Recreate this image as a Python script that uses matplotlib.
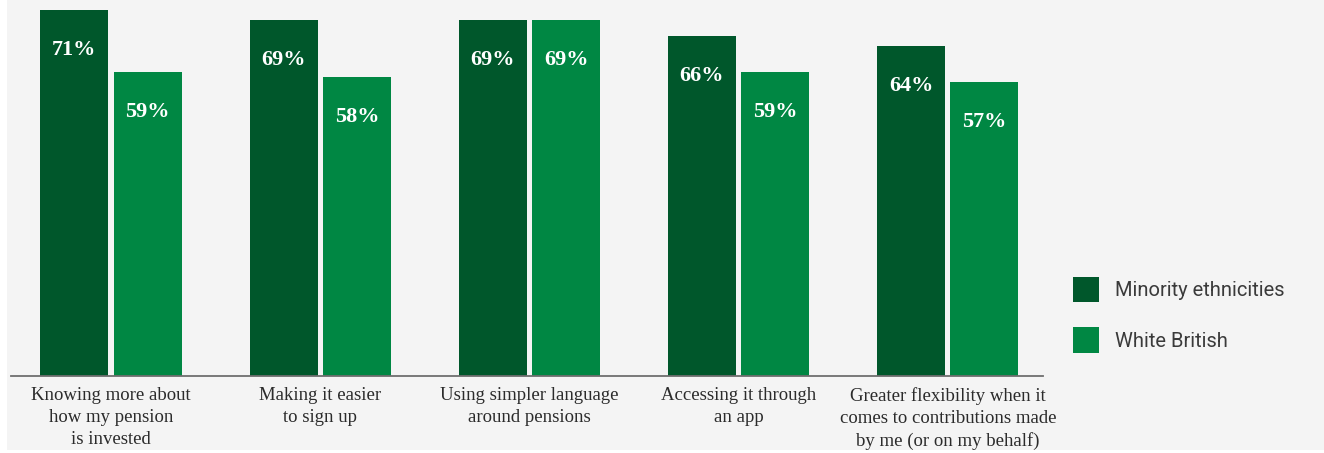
import matplotlib
matplotlib.use('Agg')
import matplotlib.pyplot as plt
from matplotlib.patches import Rectangle, Patch
import numpy as np

# Данные
categories = [
    'Knowing more about\nhow my pension\nis invested',
    'Making it easier\nto sign up',
    'Using simpler language\naround pensions',
    'Accessing it through\nan app',
    'Greater flexibility when it\ncomes to contributions made\nby me (or on my behalf)',
]
minority = [71, 69, 69, 66, 64]
white_british = [59, 58, 69, 59, 57]
series_names = ['Minority ethnicities', 'White British']

dark_green = '#00572b'
light_green = '#008743'

W, H = 1324, 453
fig = plt.figure(figsize=(W / 100, H / 100), dpi=100, facecolor='white')

# Серый фон панели
fig.patches.append(Rectangle((7 / W, 3 / H), 1 - 7 / W, 1, transform=fig.transFigure,
                             facecolor='#f4f4f4', edgecolor='none', zorder=-5))

ax = fig.add_axes([11 / W, 77 / H, (1043 - 11) / W, 376 / H])
ax.set_facecolor('none')

x = np.arange(len(categories))
bw = 0.325
off = 0.175
b1 = ax.bar(x - off, minority, bw, color=dark_green, zorder=2)
b2 = ax.bar(x + off, white_british, bw, color=light_green, zorder=2)

for bars, vals in ((b1, minority), (b2, white_british)):
    for rect, v in zip(bars, vals):
        ax.annotate(f'{v}%', (rect.get_x() + rect.get_width() / 2, v),
                    xytext=(0, -29), textcoords='offset points',
                    ha='center', va='center', color='white',
                    fontsize=16, fontweight='bold', family='Liberation Serif')

ax.set_xlim(-0.478, 4.455)
ax.set_ylim(0, 72.9)
ax.set_yticks([])
ax.set_xticks(x)
ax.set_xticklabels(categories, fontsize=13.5, family='Liberation Serif',
                   color='#2b2b2b', linespacing=1.38)
ax.tick_params(axis='x', length=0, pad=8)

for s in ['top', 'right', 'left']:
    ax.spines[s].set_visible(False)
ax.spines['bottom'].set_color('#6e6e6e')
ax.spines['bottom'].set_linewidth(1.3)

handles = [Patch(facecolor=dark_green), Patch(facecolor=light_green)]
fig.legend(handles, series_names, loc='upper left',
           bbox_to_anchor=(1073 / W, 1 - 277 / H), frameon=False,
           borderpad=0, borderaxespad=0, handlelength=1.3, handleheight=1.55,
           handletextpad=0.8, labelspacing=1.25,
           prop={'family': 'Roboto', 'size': 14.5},
           labelcolor='#3a3a3a')

fig.savefig('out.png', dpi=100, facecolor='white')
